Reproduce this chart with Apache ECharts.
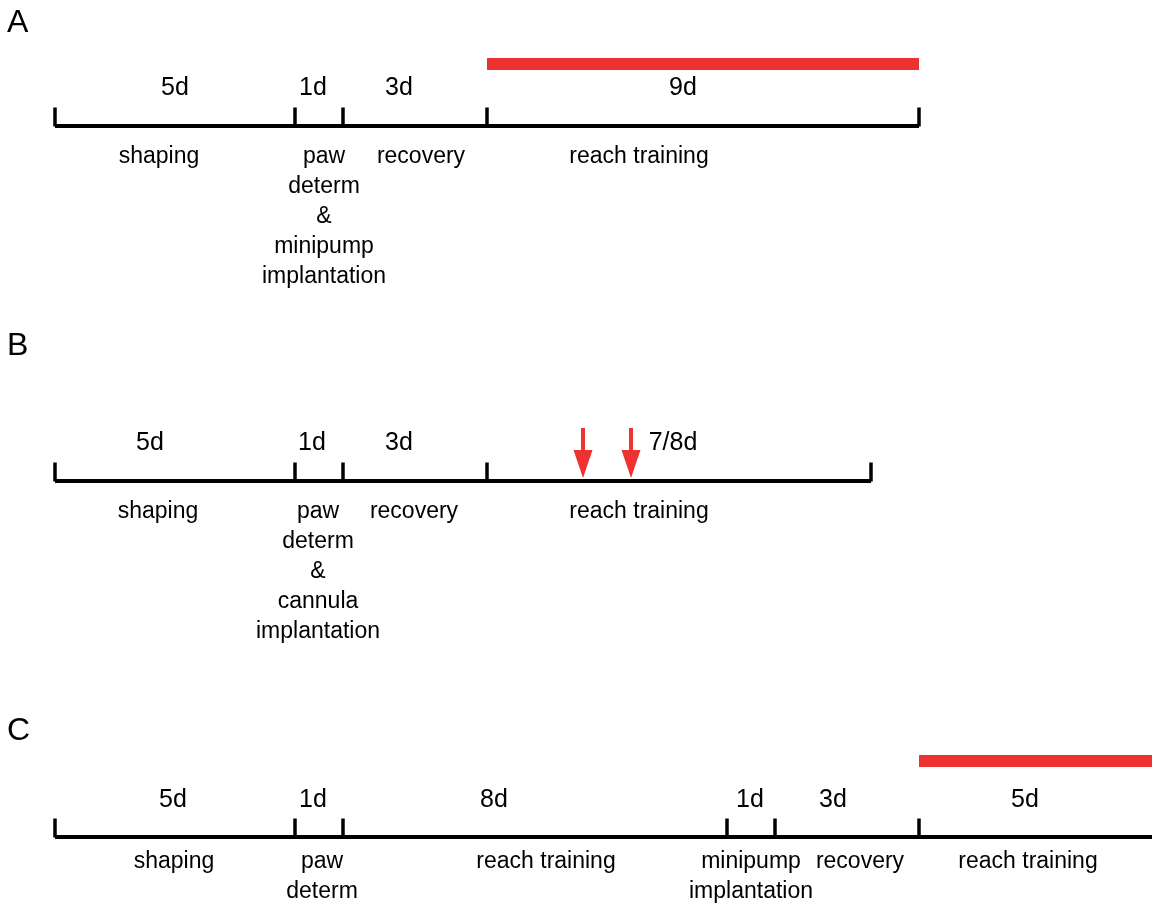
<!DOCTYPE html>
<html>
<head>
<meta charset="utf-8">
<script src="https://cdn.jsdelivr.net/npm/echarts@6/dist/echarts.min.js"></script>
<style>
html,body{margin:0;padding:0;background:#fff;}
#chart{width:1152px;height:905px;}
</style>
</head>
<body>
<div id="chart"></div>
<script>
// ---- data ----
const panelNames = ['A', 'B', 'C'];

const durationsA = [5, 1, 3, 9];
const durationLabelsA = ['5d', '1d', '3d', '9d'];
const phasesA = ['shaping', 'paw\ndeterm\n&\nminipump\nimplantation', 'recovery', 'reach training'];
const drugPeriodA = [9, 18];

const durationsB = [5, 1, 3, 8];
const durationLabelsB = ['5d', '1d', '3d', '7/8d'];
const phasesB = ['shaping', 'paw\ndeterm\n&\ncannula\nimplantation', 'recovery', 'reach training'];
const injectionDaysB = [11, 12];

const durationsC = [5, 1, 8, 1, 3, 5];
const durationLabelsC = ['5d', '1d', '8d', '1d', '3d', '5d'];
const phasesC = ['shaping', 'paw\ndeterm', 'reach training', 'minipump\nimplantation', 'recovery', 'reach training'];
const drugPeriodC = [18, 23];

// ---- layout (pixels) ----
const layout = {
  A: { base: 126, durDy: -38, phDy: 31, drugDy: -62, durDx: [0, -6, -16, -20], phDx: [-16, 5, 6, -64] },
  B: { base: 481, durDy: -38, phDy: 31, drugDy: 0, durDx: [-25, -7, -16, -6], phDx: [-17, -1, -1, -40] },
  C: { base: 837, durDy: -37, phDy: 25, drugDy: -76, durDx: [-2, -6, -41, -1, -14, -14], phDx: [-1, 3, 11, 0, 13, -11] }
};
const letterTop = { A: 7, B: 330, C: 715 };
const DAY_PX = 48, ORIGIN_PX = 55, W = 1152, H = 905;
const BLACK = '#000000', RED = '#ee3231';
const FONT = 'Arial, "Liberation Sans", Helvetica, sans-serif';

const panels = {
  A: { durations: durationsA, durLabels: durationLabelsA, phases: phasesA, drug: drugPeriodA, arrows: [] },
  B: { durations: durationsB, durLabels: durationLabelsB, phases: phasesB, drug: null, arrows: injectionDaysB },
  C: { durations: durationsC, durLabels: durationLabelsC, phases: phasesC, drug: drugPeriodC, arrows: [] }
};

const series = [];
const graphics = [];

panelNames.forEach(name => {
  const p = panels[name], L = layout[name];
  const bounds = [0];
  p.durations.forEach(d => bounds.push(bounds[bounds.length - 1] + d));
  const total = bounds[bounds.length - 1];

  // main timeline
  series.push({
    type: 'line', silent: true, symbol: 'none', animation: false,
    data: [[0, L.base], [total, L.base]],
    lineStyle: { color: BLACK, width: 4, cap: 'butt', opacity: 1 }, z: 2
  });
  // boundary ticks
  series.push({
    type: 'scatter', silent: true, animation: false,
    symbol: 'rect', symbolSize: [3.5, 19], symbolOffset: [0, -9],
    itemStyle: { color: BLACK, opacity: 1 },
    data: bounds.map(b => [b, L.base]), z: 3
  });
  // duration labels (above) and phase labels (below)
  const mids = p.durations.map((d, i) => bounds[i] + d / 2);
  series.push({
    type: 'scatter', silent: true, animation: false, symbolSize: 0,
    itemStyle: { opacity: 1 },
    data: mids.map((m, i) => ({
      value: [m, L.base],
      label: { offset: [L.durDx[i], L.durDy] , formatter: p.durLabels[i] }
    })),
    label: { show: true, position: 'inside', align: 'center', verticalAlign: 'middle',
      color: BLACK, fontSize: 25, fontFamily: FONT, textBorderWidth: 0 }
  });
  series.push({
    type: 'scatter', silent: true, animation: false, symbolSize: 0,
    itemStyle: { opacity: 1 },
    data: mids.map((m, i) => ({
      value: [m, L.base],
      label: { offset: [L.phDx[i], L.phDy - 15], formatter: p.phases[i] }
    })),
    label: { show: true, position: 'inside', align: 'center', verticalAlign: 'top',
      color: BLACK, fontSize: 23, lineHeight: 30, fontFamily: FONT, textBorderWidth: 0 }
  });
  // drug delivery bar
  if (p.drug) {
    series.push({
      type: 'line', silent: true, symbol: 'none', animation: false,
      data: [[p.drug[0], L.base + L.drugDy], [p.drug[1], L.base + L.drugDy]],
      lineStyle: { color: RED, width: 12, cap: 'butt', opacity: 1 }
    });
  }
  // injection arrows
  if (p.arrows.length) {
    series.push({
      type: 'scatter', silent: true, animation: false,
      symbol: 'path://M7.5,0 L11.5,0 L11.5,22 L19,22 L9.5,50 L0,22 L7.5,22 Z',
      symbolSize: [19, 50], symbolKeepAspect: false, symbolOffset: [0, -28],
      itemStyle: { color: RED, opacity: 1 },
      data: p.arrows.map(d => [d, L.base]), z: 4
    });
  }
  graphics.push({
    type: 'text', left: 7, top: letterTop[name],
    style: { text: name, fontSize: 32, fontFamily: FONT, fill: BLACK }
  });
});

const chart = echarts.init(document.getElementById('chart'), null, { renderer: 'canvas' });
chart.setOption({
  backgroundColor: '#ffffff',
  animation: false,
  grid: { left: 0, right: 0, top: 0, bottom: 0, containLabel: false },
  xAxis: { type: 'value', min: -ORIGIN_PX / DAY_PX, max: (W - ORIGIN_PX) / DAY_PX, show: false },
  yAxis: { type: 'value', min: 0, max: H, inverse: true, show: false },
  graphic: graphics,
  series: series
});
</script>
</body>
</html>
